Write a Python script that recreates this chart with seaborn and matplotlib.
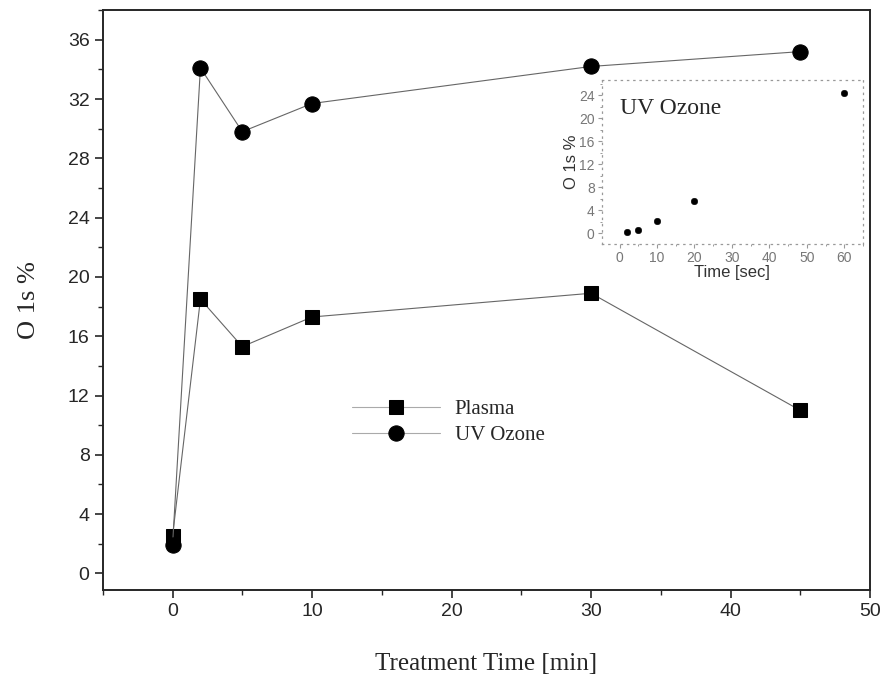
import matplotlib
matplotlib.use("Agg")
import matplotlib.pyplot as plt
import seaborn as sns
import pandas as pd
from matplotlib.ticker import MultipleLocator

# main chart data
time_min = [0, 2, 5, 10, 30, 45]
plasma = [2.5, 18.5, 15.3, 17.3, 18.9, 11.0]
uv_ozone = [1.9, 34.1, 29.8, 31.7, 34.2, 35.2]

# inset data
time_sec = [2, 5, 10, 20, 60]
uv_inset = [0.1, 0.5, 2.1, 5.6, 24.4]

sns.set_style("ticks")
plt.rcParams['font.family'] = ['Liberation Sans', 'DejaVu Sans']
serif = ['Liberation Serif', 'DejaVu Serif']

fig = plt.figure(figsize=(8.86, 6.74), dpi=100)
ax = fig.add_axes([0.116, 0.125, 0.866, 0.86])

df_p = pd.DataFrame({'t': time_min, 'o': plasma})
df_u = pd.DataFrame({'t': time_min, 'o': uv_ozone})
sns.lineplot(data=df_p, x='t', y='o', ax=ax, color='#666666', linewidth=0.8,
             marker='s', markersize=10, markerfacecolor='black',
             markeredgecolor='black', label='Plasma')
sns.lineplot(data=df_u, x='t', y='o', ax=ax, color='#666666', linewidth=0.8,
             marker='o', markersize=11, markerfacecolor='black',
             markeredgecolor='black', label='UV Ozone')

ax.set_xlim(-5, 50)
ax.set_ylim(-1.1, 38)
ax.xaxis.set_major_locator(MultipleLocator(10))
ax.xaxis.set_minor_locator(MultipleLocator(5))
ax.yaxis.set_major_locator(MultipleLocator(4))
ax.yaxis.set_minor_locator(MultipleLocator(2))
ax.tick_params(which='major', direction='out', length=6, width=1.2,
               labelsize=14, top=False, right=False)
ax.tick_params(which='minor', direction='out', length=3.5, width=1.0,
               top=False, right=False)
for s in ax.spines.values():
    s.set_linewidth(1.4)
ax.set_xlabel('Treatment Time [min]', fontsize=18, family=serif, labelpad=24)
ax.set_ylabel('O 1s %', fontsize=19, family=serif, labelpad=20)

leg = ax.legend(loc='upper left', bbox_to_anchor=(0.301, 0.36), frameon=False,
                handlelength=4.2, handletextpad=0.7,
                prop={'family': serif, 'size': 15}, labelspacing=0.3)
for ln in leg.get_lines():
    ln.set_color('#aaaaaa')
    ln.set_markerfacecolor('black')
    ln.set_markeredgecolor('black')

# inset
ins = fig.add_axes([0.679, 0.638, 0.295, 0.243])
df_i = pd.DataFrame({'t': time_sec, 'o': uv_inset})
sns.scatterplot(data=df_i, x='t', y='o', ax=ins, color='black', s=22,
                edgecolor='black')
ins.set_xlim(-4.8, 65)
ins.set_ylim(-1.9, 26.6)
ins.xaxis.set_major_locator(MultipleLocator(10))
ins.xaxis.set_minor_locator(MultipleLocator(5))
ins.yaxis.set_major_locator(MultipleLocator(4))
ins.yaxis.set_minor_locator(MultipleLocator(2))
ins.tick_params(which='major', direction='out', length=3, width=0.8,
                color='#999999', labelcolor='#777777', labelsize=10,
                top=False, right=False, pad=2)
ins.tick_params(which='minor', direction='out', length=1.5, width=0.7,
                color='#999999', top=False, right=False)
for s in ins.spines.values():
    s.set_linestyle((0, (1, 4)))
    s.set_color('#999999')
    s.set_linewidth(0.9)
ins.set_xlabel('Time [sec]', fontsize=12, labelpad=0, color='#333333')
ins.set_ylabel('O 1s %', fontsize=12, labelpad=0, color='#333333')
ins.text(0.07, 0.83, 'UV Ozone', transform=ins.transAxes, fontsize=17,
         family=serif, va='center', ha='left')
ins.patch.set_alpha(0)

fig.savefig('out.png', dpi=100)
